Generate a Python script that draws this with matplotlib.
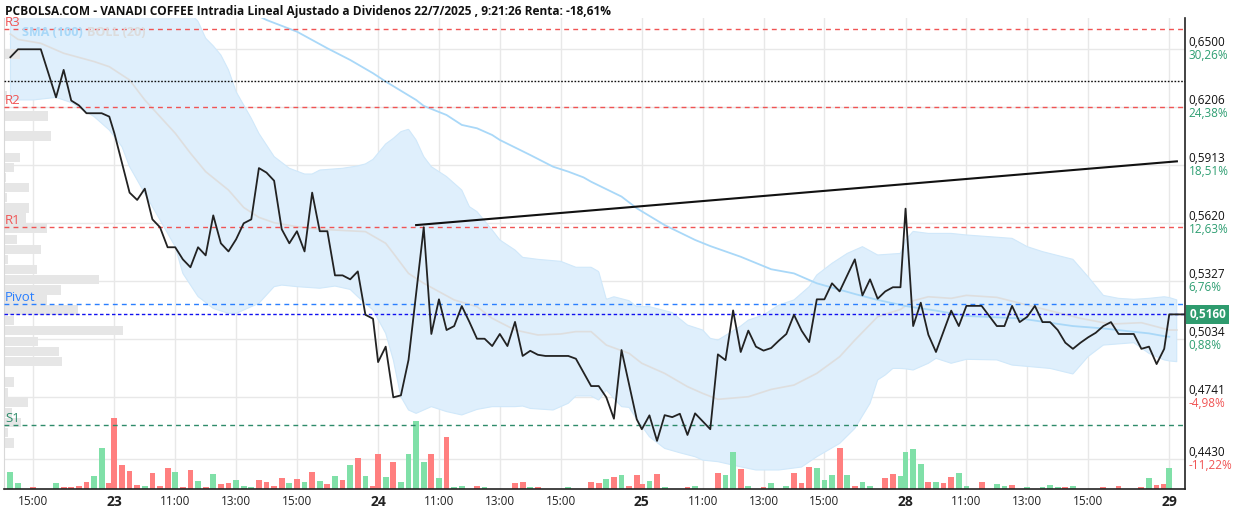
import numpy as np
import matplotlib
matplotlib.use("Agg")
import matplotlib.pyplot as plt
import matplotlib.transforms as mtransforms

plt.rcParams['font.family'] = ['Open Sans', 'DejaVu Sans']

# dias de sesion que salen en el grafico y duracion de la sesion (9:00 - 17:40)
dias = ['22', '23', '24', '25', '28', '29']
sesion = 8 + 40 / 60

# cotizacion intradia (cierres de 15 min)
t_precio = ['22 14:15', '22 14:30', '22 15:15', '22 15:45', '22 16:00', '22 16:15', '22 16:30', '22 16:45',
            '22 17:15', '22 17:30',
            '23 09:00', '23 09:30', '23 09:45', '23 10:00', '23 10:15', '23 10:30', '23 10:45', '23 11:00',
            '23 11:15', '23 11:30', '23 11:45', '23 12:00', '23 12:15', '23 12:30', '23 12:45', '23 13:00',
            '23 13:15', '23 13:30', '23 13:45', '23 14:00', '23 14:15', '23 14:30', '23 14:45', '23 15:00',
            '23 15:15', '23 15:30', '23 15:45', '23 16:00', '23 16:15', '23 16:30', '23 16:45', '23 17:00',
            '23 17:15', '23 17:30',
            '24 09:00', '24 09:15', '24 09:30', '24 09:45', '24 10:00', '24 10:30', '24 10:45', '24 11:00',
            '24 11:15', '24 11:30', '24 11:45', '24 12:00', '24 12:15', '24 12:30', '24 12:45', '24 13:00',
            '24 13:15', '24 13:30', '24 13:45', '24 14:00', '24 14:15', '24 14:30', '24 15:15', '24 15:30',
            '24 16:00', '24 16:15', '24 16:30', '24 16:45', '24 17:00', '24 17:30',
            '25 09:00', '25 09:15', '25 09:30', '25 09:45', '25 10:00', '25 10:15', '25 10:30', '25 10:45',
            '25 11:00', '25 11:15', '25 11:30', '25 11:45', '25 12:00', '25 12:15', '25 12:30', '25 12:45',
            '25 13:00', '25 13:15', '25 13:30', '25 13:45', '25 14:00', '25 14:15', '25 14:30', '25 14:45',
            '25 15:00', '25 15:15', '25 15:30', '25 15:45', '25 16:00', '25 16:15', '25 16:30', '25 16:45',
            '25 17:00', '25 17:15', '25 17:30',
            '28 09:00', '28 09:15', '28 09:30', '28 09:45', '28 10:00', '28 10:15', '28 10:30', '28 10:45',
            '28 11:00', '28 11:30', '28 11:45', '28 12:00', '28 12:15', '28 12:30', '28 12:45', '28 13:00',
            '28 13:15', '28 13:30', '28 13:45', '28 14:00', '28 14:15', '28 14:30', '28 14:45', '28 15:00',
            '28 15:15', '28 15:30', '28 15:45', '28 16:00', '28 16:30', '28 16:45', '28 17:00', '28 17:15',
            '28 17:30',
            '29 09:00', '29 09:30']
precio = [0.6459, 0.6499, 0.6499, 0.6256, 0.6395, 0.6240, 0.6216, 0.6176,
          0.6176, 0.6159,
          0.6075, 0.5775, 0.5738, 0.5795, 0.5640, 0.5600, 0.5499, 0.5499,
          0.5438, 0.5398, 0.5499, 0.5458, 0.5660, 0.5519, 0.5478, 0.5539,
          0.5620, 0.5640, 0.5899, 0.5876, 0.5835, 0.5590, 0.5519, 0.5580,
          0.5478, 0.5775, 0.5580, 0.5580, 0.5357, 0.5357, 0.5337, 0.5377,
          0.5158, 0.5138,
          0.4919, 0.4997, 0.4741, 0.4751, 0.4930, 0.5600, 0.5061, 0.5236,
          0.5081, 0.5101, 0.5202, 0.5122, 0.5037, 0.5037, 0.5000, 0.5061,
          0.5000, 0.5122, 0.4950, 0.4976, 0.4956, 0.4950, 0.4950, 0.4936,
          0.4798, 0.4798, 0.4741, 0.4633, 0.4980, 0.4630,
          0.4580, 0.4650, 0.4521, 0.4651, 0.4641, 0.4658, 0.4551, 0.4660,
          0.4620, 0.4580, 0.4958, 0.4929, 0.5180, 0.4970, 0.5078, 0.4997,
          0.4977, 0.4990, 0.5027, 0.5061, 0.5158, 0.5078, 0.5020, 0.5236,
          0.5236, 0.5317, 0.5276, 0.5357, 0.5438, 0.5256, 0.5337, 0.5239,
          0.5276, 0.5297, 0.5297,
          0.5694, 0.5101, 0.5219, 0.5057, 0.4970, 0.5074, 0.5179, 0.5101,
          0.5203, 0.5203, 0.5152, 0.5101, 0.5101, 0.5203, 0.5121, 0.5148,
          0.5203, 0.5121, 0.5121, 0.5081, 0.5017, 0.4986, 0.5017, 0.5044,
          0.5067, 0.5101, 0.5121, 0.5061, 0.5061, 0.4986, 0.4997, 0.4909,
          0.4986,
          0.5160, 0.5160]

# volumen por tramo de 15 min (s = sube, b = baja)
t_vol = ['22 14:15', '22 14:30', '22 15:00', '22 15:45', '22 16:00', '22 16:15', '22 16:30', '22 16:45',
         '22 17:00', '22 17:15', '22 17:30',
         '23 09:00', '23 09:15', '23 09:30', '23 09:45', '23 10:00', '23 10:15', '23 10:30', '23 10:45',
         '23 11:00', '23 11:15', '23 11:30', '23 11:45', '23 12:00', '23 12:15', '23 12:30', '23 12:45',
         '23 13:00', '23 13:15', '23 13:30', '23 13:45', '23 14:00', '23 14:15', '23 14:30', '23 14:45',
         '23 15:00', '23 15:15', '23 15:30', '23 15:45', '23 16:00', '23 16:15', '23 16:30', '23 16:45',
         '23 17:00', '23 17:15', '23 17:30',
         '24 09:00', '24 09:15', '24 09:30', '24 09:45', '24 10:00', '24 10:15', '24 10:30', '24 10:45',
         '24 11:00', '24 11:15', '24 11:30', '24 11:45', '24 12:15', '24 12:30', '24 13:30', '24 13:45',
         '24 14:00', '24 14:15', '24 15:15', '24 16:00', '24 16:15', '24 16:30', '24 16:45', '24 17:00',
         '24 17:15', '24 17:30',
         '25 09:00', '25 09:15', '25 09:30', '25 09:45', '25 10:30', '25 10:45', '25 11:30', '25 11:45',
         '25 12:00', '25 12:15', '25 12:30', '25 13:00', '25 13:15', '25 13:45', '25 14:00', '25 14:15',
         '25 14:30', '25 14:45', '25 15:00', '25 15:15', '25 15:30', '25 15:45', '25 16:00', '25 16:15',
         '25 16:30', '25 17:00', '25 17:15', '25 17:30',
         '28 09:00', '28 09:15', '28 09:30', '28 09:45', '28 10:00', '28 10:15', '28 10:30', '28 10:45',
         '28 11:00', '28 11:30', '28 12:00', '28 12:15', '28 12:30', '28 13:00', '28 13:30', '28 13:45',
         '28 14:00', '28 14:15', '28 14:30', '28 15:30', '28 16:00', '28 16:45', '28 17:00', '28 17:15',
         '28 17:30',
         '29 09:00']
volumen = [17, 5.7, 1.7, 5.7, 1.7, 1.7, 2.7, 6.7,
           12.7, 40.7, 5.7,
           70.7, 23.7, 18, 4, 3, 15.7, 3, 20.7,
           17, 1.7, 18.7, 7.7, 1.7, 14.7, 4.7, 5.7,
           8.7, 3, 1.7, 8.7, 6.7, 3, 10.7, 5.7,
           9.7, 6.7, 17, 7.7, 4.7, 12.7, 8.7, 23.7,
           30.7, 12.7, 3,
           34.7, 11.7, 26.7, 6.7, 34.7, 67.7, 26.7, 34.7,
           10.7, 51.7, 1.7, 2.7, 2.7, 1.7, 5.7, 6.7,
           1.7, 1.7, 1.7, 6.7, 5.7, 9.7, 11.7, 13.7,
           2.7, 13.7,
           4.7, 7.7, 14.7, 1.7, 1.7, 2.7, 15.7, 13.7,
           36.7, 19.7, 2.7, 1.7, 5.7, 2.7, 15.7, 5.7,
           21.7, 20.7, 8.7, 13.7, 40.7, 13.7, 2.7, 6.7,
           2.7, 10.7, 14.7, 12.7,
           36.7, 39.7, 24.7, 6.7, 6.7, 5.7, 11.7, 15.7,
           2.7, 6.7, 4.7, 2.7, 3.7, 1.7, 1.7, 3.7,
           1.7, 1.7, 2.7, 1.7, 2.7, 1.7, 10.7, 3.7,
           4.7,
           20.7]
sentido = list('ssbsbbbbssb'
               'bbbbsbbbsbbsbsbbsssbbbbsbsbsbsbsbsb'
               'bsbssssbsbssbsbbsbsbbsbsbb'
               'bsbsbsbssbsbssbbbsssbsbssbbsss'
               'sbsbbssbssbssssbsbbbsbbsbs'
               's')

# Bollinger (20) y SMA (100)
t_boll_sup = ['22 14:15', '22 16:00', '23 09:00', '23 10:30', '23 11:30', '23 11:45', '23 12:00', '23 12:15',
              '23 12:30', '23 12:45', '23 13:00', '23 13:30', '23 13:45', '23 14:15', '23 14:45', '23 15:15',
              '23 15:30', '23 15:45', '23 16:30', '23 17:00', '23 17:15', '23 17:30', '24 09:15', '24 09:30',
              '24 09:45', '24 10:00', '24 10:15', '24 10:30', '24 10:45', '24 11:15', '24 11:45', '24 12:00',
              '24 12:15', '24 12:45', '24 13:00', '24 13:30', '24 13:45', '24 14:15', '24 15:00', '24 15:30',
              '24 16:00', '24 16:15', '24 16:30', '24 16:45', '24 17:15', '24 17:30', '25 09:15', '25 10:00',
              '25 10:30', '25 11:00', '25 11:15', '25 11:30', '25 12:15', '25 12:30', '25 13:00', '25 13:30',
              '25 14:00', '25 14:30', '25 14:45', '25 15:15', '25 15:45', '25 16:15', '25 16:45', '25 17:30',
              '28 09:00', '28 09:15', '28 09:45', '28 10:30', '28 11:00', '28 12:30', '28 13:00', '28 13:30',
              '28 14:30', '28 15:00', '28 15:30', '28 16:00', '28 16:30', '28 17:00', '28 17:30', '29 09:00',
              '29 09:15']
boll_sup = [0.700, 0.700, 0.695, 0.680, 0.668, 0.6640, 0.6555, 0.6516,
            0.6470, 0.6395, 0.6285, 0.6150, 0.6074, 0.5957, 0.5898, 0.5869,
            0.5869, 0.5889, 0.5898, 0.5910, 0.5920, 0.5943, 0.6021, 0.6049,
            0.6083, 0.6095, 0.6041, 0.5957, 0.5906, 0.5856, 0.5788, 0.5704,
            0.5679, 0.5586, 0.5536, 0.5485, 0.5448, 0.5438, 0.5428, 0.5398,
            0.5398, 0.5376, 0.5236, 0.5249, 0.5229, 0.5199, 0.5199, 0.5169,
            0.5106, 0.5081, 0.5039, 0.5030, 0.5101, 0.5131, 0.5157, 0.5207,
            0.5233, 0.5300, 0.5359, 0.5418, 0.5468, 0.5502, 0.5460, 0.5468,
            0.5536, 0.5579, 0.5569, 0.5569, 0.5561, 0.5544, 0.5502, 0.5477,
            0.5438, 0.5350, 0.5256, 0.5241, 0.5236, 0.5241, 0.5249, 0.5245,
            0.5233]
t_boll_inf = ['22 14:15', '22 15:00', '22 15:45', '22 16:15', '22 17:00', '22 17:30', '23 09:15', '23 09:30',
              '23 10:00', '23 10:30', '23 11:00', '23 11:15', '23 11:45', '23 12:15', '23 12:45', '23 13:00',
              '23 13:45', '23 14:15', '23 14:30', '23 15:00', '23 15:45', '23 16:15', '23 16:45', '23 17:00',
              '23 17:30', '24 09:15', '24 09:30', '24 09:45', '24 10:00', '24 10:15', '24 10:45', '24 11:15',
              '24 11:45', '24 12:15', '24 12:45', '24 13:30', '24 13:45', '24 14:00', '24 14:45', '24 15:15',
              '24 15:30', '24 16:00', '24 16:15', '24 16:30', '24 17:00', '24 17:15', '24 17:30', '25 09:15',
              '25 09:45', '25 10:15', '25 10:45', '25 11:00', '25 11:30', '25 12:15', '25 12:45', '25 13:30',
              '25 14:15', '25 14:45', '25 15:30', '25 16:00', '25 16:30', '25 16:45', '25 17:00', '25 17:15',
              '25 17:30', '28 09:00', '28 09:15', '28 09:45', '28 10:00', '28 10:30', '28 11:00', '28 12:00',
              '28 12:30', '28 13:45', '28 14:30', '28 15:00', '28 15:30', '28 16:30', '28 17:00', '28 17:30',
              '29 09:00', '29 09:15']
boll_inf = [0.6243, 0.6243, 0.6256, 0.6230, 0.6159, 0.6091, 0.6007, 0.5906,
            0.5771, 0.5637, 0.5502, 0.5367, 0.5250, 0.5190, 0.5165, 0.5165,
            0.5216, 0.5300, 0.5308, 0.5300, 0.5292, 0.5303, 0.5286, 0.5249,
            0.5182, 0.5064, 0.4930, 0.4744, 0.4677, 0.4660, 0.4694, 0.4669,
            0.4652, 0.4680, 0.4694, 0.4694, 0.4697, 0.4685, 0.4677, 0.4711,
            0.4748, 0.4748, 0.4727, 0.4778, 0.4694, 0.4690, 0.4630, 0.4542,
            0.4483, 0.4461, 0.4441, 0.4424, 0.4416, 0.4390, 0.4374, 0.4374,
            0.4389, 0.4441, 0.4508, 0.4584, 0.4711, 0.4829, 0.4854, 0.4887,
            0.4887, 0.4885, 0.4879, 0.4913, 0.4938, 0.4913, 0.4933, 0.4930,
            0.4904, 0.4887, 0.4859, 0.4947, 0.5005, 0.5017, 0.4963, 0.4930,
            0.4925, 0.4921]
t_boll_med = ['22 14:15', '22 14:30', '22 15:15', '22 16:00', '22 17:00', '22 17:30', '23 09:30', '23 10:00',
              '23 10:30', '23 11:00', '23 11:30', '23 12:00', '23 12:45', '23 13:15', '23 13:45', '23 14:15',
              '23 15:00', '23 15:45', '23 17:15', '24 09:15', '24 09:30', '24 10:00', '24 10:30', '24 11:00',
              '24 11:30', '24 12:15', '24 12:45', '24 13:30', '24 14:15', '24 15:00', '24 15:30', '24 16:00',
              '24 16:30', '24 17:15', '25 09:00', '25 09:45', '25 10:30', '25 11:00', '25 11:30', '25 12:30',
              '25 13:15', '25 14:00', '25 14:45', '25 15:30', '25 16:00', '25 16:45', '25 17:30', '28 09:15',
              '28 09:45', '28 10:30', '28 11:00', '28 12:00', '28 13:00', '28 14:00', '28 14:45', '28 15:45',
              '28 16:45', '29 09:00', '29 09:15']
boll_med = [0.6576, 0.6549, 0.6529, 0.6479, 0.6437, 0.6411, 0.6344, 0.6243,
            0.6159, 0.6075, 0.5974, 0.5881, 0.5788, 0.5700, 0.5650, 0.5623,
            0.5603, 0.5590, 0.5578, 0.5519, 0.5469, 0.5367, 0.5317, 0.5275,
            0.5233, 0.5199, 0.5140, 0.5081, 0.5056, 0.5061, 0.5073, 0.5073,
            0.5005, 0.4963, 0.4913, 0.4862, 0.4795, 0.4761, 0.4731, 0.4744,
            0.4781, 0.4803, 0.4862, 0.4946, 0.5030, 0.5148, 0.5185, 0.5229,
            0.5249, 0.5241, 0.5256, 0.5246, 0.5207, 0.5169, 0.5140, 0.5111,
            0.5118, 0.5081, 0.5081]
t_sma = ['23 12:00', '23 14:00', '23 15:00', '23 16:00', '23 16:45', '23 17:30', '24 09:15', '24 10:15',
         '24 10:30', '24 11:15', '24 11:45', '24 12:15', '24 12:45', '24 13:00', '24 14:00', '24 14:45',
         '24 15:15', '24 15:45', '24 16:00', '24 17:00', '24 17:30', '25 09:45', '25 10:45', '25 11:15',
         '25 12:15', '25 13:15', '25 14:00', '25 14:45', '25 16:00', '25 16:45', '28 09:00', '28 10:00',
         '28 11:00', '28 12:45', '28 13:30', '28 14:30', '28 15:30', '28 16:30', '28 17:00', '28 17:30',
         '29 09:00']
sma100 = [0.6800, 0.6647, 0.6588, 0.6504, 0.6445, 0.6378, 0.6336, 0.6243,
          0.6213, 0.6167, 0.6117, 0.6100, 0.6066, 0.6041, 0.5965, 0.5906,
          0.5881, 0.5852, 0.5830, 0.5755, 0.5696, 0.5611, 0.5536, 0.5505,
          0.5451, 0.5388, 0.5367, 0.5317, 0.5263, 0.5233, 0.5202, 0.5179,
          0.5152, 0.5140, 0.5123, 0.5101, 0.5089, 0.5072, 0.5064, 0.5050,
          0.5047]

# perfil de volumen por precio (barras grises a la izquierda)
perfil_precio = [0.6475, 0.6267, 0.6162, 0.6061, 0.5953, 0.5903, 0.5852, 0.5802, 0.5751, 0.5697, 0.5647,
                 0.5596, 0.5539, 0.5489, 0.5438, 0.5388, 0.5337, 0.5283, 0.5233, 0.5182, 0.5128, 0.5078,
                 0.5024, 0.4973, 0.4923, 0.4818, 0.4766, 0.4717, 0.4663, 0.4613, 0.4562, 0.4510]
perfil_vol = [16, 3, 44, 47, 16, 10, 1.5, 25, 2.5, 25, 21.5,
              42.5, 12.5, 37, 3.5, 32.5, 95, 56.5, 42.5, 74, 10, 118.5,
              33.5, 54.5, 57.5, 10, 4, 24, 8, 17, 4, 10]

# niveles
niveles = {'R3': 0.6600, 'R2': 0.6206, 'R1': 0.5600, 'Pivot': 0.5211, 'S1': 0.4599}
color_nivel = {'R3': '#f05454', 'R2': '#f05454', 'R1': '#f05454', 'Pivot': '#2a7fff', 'S1': '#2e8b6a'}
nivel_punteado = 0.6337
ultimo = 0.5160
tendencia_t = ['24 10:15', '29 09:15']
tendencia_p = [0.5611, 0.5933]

# eje derecho
ticks_precio = [0.6500, 0.6206, 0.5913, 0.5620, 0.5327, 0.5034, 0.4741, 0.4430]
ticks_pct = ['30,26%', '24,38%', '18,51%', '12,63%', '6,76%', '0,88%', '-4,98%', '-11,22%']

# eje de tiempo
ticks_t = ['22 15:00', '23 09:00', '23 11:00', '23 13:00', '23 15:00', '24 09:00', '24 11:00', '24 13:00',
           '24 15:00', '25 09:00', '25 11:00', '25 13:00', '25 15:00', '28 09:00', '28 11:00', '28 13:00',
           '28 15:00', '29 09:00']
ticks_lbl = ['15:00', '23', '11:00', '13:00', '15:00', '24', '11:00', '13:00',
             '15:00', '25', '11:00', '13:00', '15:00', '28', '11:00', '13:00',
             '15:00', '29']


def pos(t):
    d, hm = t.split()
    h, m = hm.split(':')
    return dias.index(d) * sesion + int(h) - 9 + int(m) / 60


def xs(lista):
    return np.array([pos(t) for t in lista])


fig = plt.figure(figsize=(12.4, 5.12), dpi=100)
ax = fig.add_axes([4 / 1240, 23 / 512, 1181 / 1240, 471 / 512])
x0, x1 = 5.04, 43.85
y0, y1 = 0.4278, 0.6657
ax.set_xlim(x0, x1)
ax.set_ylim(y0, y1)

# rejilla
for xt in xs(ticks_t):
    ax.axvline(xt, color='#e8e8e8', lw=1, zorder=0)
for yt in ticks_precio:
    ax.axhline(yt, color='#e8e8e8', lw=1, zorder=0)

# banda de bollinger
xb = np.linspace(x0, x1, 2000)
xs_sup, xs_inf = xs(t_boll_sup), xs(t_boll_inf)
rango = (xb >= max(xs_sup[0], xs_inf[0])) & (xb <= min(xs_sup[-1], xs_inf[-1]))
sup = np.interp(xb[rango], xs_sup, boll_sup)
inf = np.interp(xb[rango], xs_inf, boll_inf)
ax.fill_between(xb[rango], inf, sup, color='#dfeffc', lw=0.8, edgecolor='#d0e8fa', zorder=1)

# perfil de volumen
trans_perfil = mtransforms.blended_transform_factory(ax.transAxes, ax.transData)
escala_perfil = 1181
ax.barh(perfil_precio, np.array(perfil_vol) / escala_perfil, height=0.0047, left=0,
        color='#e6e6e6', transform=trans_perfil, zorder=1.5)

# volumen
trans_vol = mtransforms.blended_transform_factory(ax.transData, ax.transAxes)
escala_vol = 471
col_vol = ['#80e0a8' if s == 's' else '#ff7f7f' for s in sentido]
ax.bar(xs(t_vol), np.array(volumen) / escala_vol, width=0.19, bottom=0,
       color=col_vol, transform=trans_vol, zorder=2)

# medias
ax.plot(xs(t_boll_med), boll_med, color='#dedede', lw=1.2, zorder=3)
ax.plot(xs(t_sma), sma100, color='#a9d8f8', lw=1.3, zorder=3)

# niveles
for nombre, valor in niveles.items():
    ax.axhline(valor, color=color_nivel[nombre], lw=1, dashes=(3.5, 3), zorder=3)
    ax.text(0.001, valor + 0.0003, nombre, color=color_nivel[nombre], fontsize=9.5,
            transform=trans_perfil, va='bottom', ha='left', zorder=6)
ax.axhline(nivel_punteado, color='#111111', lw=1, dashes=(1.2, 1.2), zorder=3)
ax.axhline(ultimo, color='#1010f0', lw=1, dashes=(2.5, 1.8), zorder=3)

# linea de tendencia y cotizacion
ax.plot(xs(tendencia_t), tendencia_p, color='#111111', lw=1.5, zorder=4)
ax.plot(xs(t_precio), precio, color='#222222', lw=1.3, zorder=5)

# leyenda
txt_sma = ax.text(0.015, 0.983, 'SMA (100)', color='#a9d8f8', fontsize=9, fontweight='bold',
                  transform=ax.transAxes, va='top', zorder=6)
ax.annotate('BOLL (20)', xy=(1, 0), xycoords=txt_sma, xytext=(3, 0), textcoords='offset points',
            color='#dcdcdc', fontsize=9, fontweight='bold', va='bottom', ha='left', zorder=6)

# ejes
ax.spines['top'].set_visible(False)
ax.spines['left'].set_color('#d8d8d8')
ax.spines['right'].set_color('#222222')
ax.spines['right'].set_linewidth(1.2)
ax.spines['bottom'].set_color('#222222')
ax.spines['bottom'].set_linewidth(1.2)
ax.set_yticks([])
ax.set_xticks(xs(ticks_t))
ax.set_xticklabels(ticks_lbl)
ax.tick_params(axis='x', length=0, pad=4, labelsize=8.5, colors='#222222')
for lbl in ax.get_xticklabels():
    if ':' not in lbl.get_text():
        lbl.set_fontweight('bold')
        lbl.set_fontsize(10)

trans_der = mtransforms.blended_transform_factory(ax.transAxes, ax.transData)
for valor, pct in zip(ticks_precio, ticks_pct):
    ax.text(1.003, valor, f'{valor:.4f}'.replace('.', ','), transform=trans_der, fontsize=8.5,
            color='#111111', va='bottom', ha='left')
    ax.text(1.003, valor + 0.0002, pct, transform=trans_der, fontsize=8.5,
            color='#2e9e72' if not pct.startswith('-') else '#f05454', va='top', ha='left')
ax.text(1.0035, ultimo, f'{ultimo:.4f}'.replace('.', ','), transform=trans_der, fontsize=8.5,
        fontweight='bold', color='white', va='center', ha='left', zorder=7,
        bbox=dict(boxstyle='square,pad=0.25', fc='#2e9b6e', ec='none'))

fig.text(0.004, 0.99, 'PCBOLSA.COM - VANADI COFFEE Intradia Lineal Ajustado a Dividenos 22/7/2025 , '
         '9:21:26 Renta: -18,61%', fontsize=8.6, fontweight='bold', color='#111111', va='top', ha='left')

fig.savefig('out.png', dpi=100)
